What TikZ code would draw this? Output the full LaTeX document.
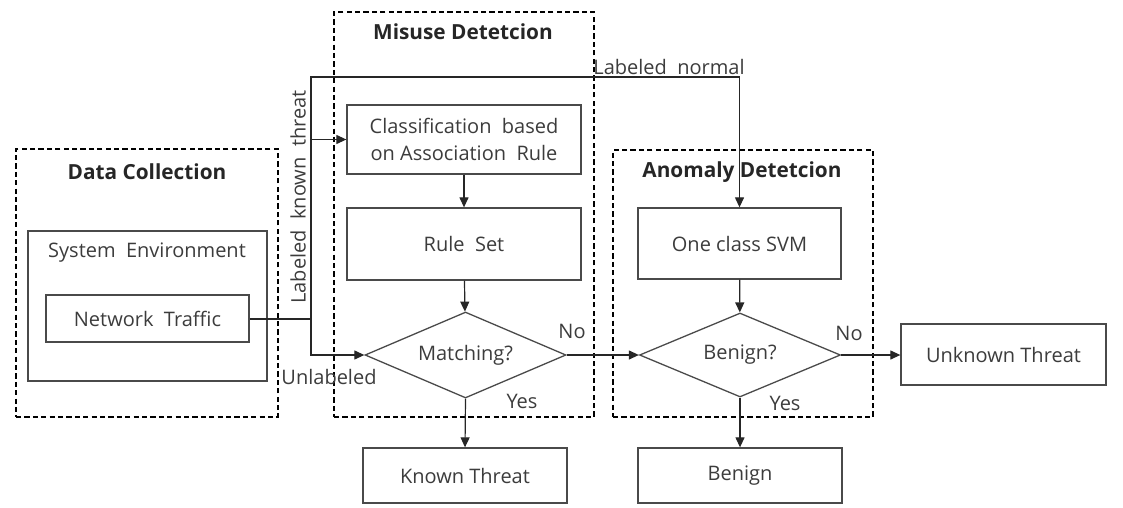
\documentclass[tikz,border=0pt]{standalone}
\usepackage{fontspec}
\setmainfont{Open Sans}
\usetikzlibrary{arrows.meta,shapes.geometric}
\definecolor{linec}{HTML}{4A4A4A}
\definecolor{textc}{HTML}{3C3C3C}
\begin{document}
\begin{tikzpicture}[x=0.5pt,y=-0.5pt,
  every node/.style={font=\fontsize{10}{13.5}\selectfont, text=textc},
  box/.style={draw=linec, line width=0.65pt, rectangle, inner sep=0pt, align=center},
  dbox/.style={draw=black, line width=0.6pt, dash pattern=on 2.6pt off 1.6pt, rectangle, inner sep=0pt},
  dia/.style={draw=linec, line width=0.65pt, diamond, inner sep=0pt, aspect=2.33},
  ttl/.style={font=\fontsize{10.4}{12}\selectfont\bfseries, text=black!85},
  lbl/.style={inner sep=0pt},
  arr/.style={draw=black!85, line width=0.6pt, -{Triangle[length=5pt,width=4.5pt]}},
  ln/.style={draw=black!85, line width=0.6pt}
]
\useasboundingbox (0,0) rectangle (1123,508);
% dashed containers
\node[dbox, minimum width=131pt, minimum height=134pt] (dc) at (147,283) {};
\node[dbox, minimum width=130pt, minimum height=202.5pt] (md) at (464,214.5) {};
\node[dbox, minimum width=130pt, minimum height=133.5pt] (ad) at (743,283.5) {};
\node[ttl] (dct) at (147,172) {Data Collection};
\node[ttl] (mdt) at (463,32) {Misuse Detetcion};
\node[ttl] (adt) at (742,172) {Anomaly Detetcion};
% boxes
\node[box, minimum width=119.5pt, minimum height=75pt] (se) at (147.5,306) {};
\node (set) at (147,253) {System\ \ Environment};
\node[box, minimum width=101.5pt, minimum height=23.5pt] (nt) at (147.5,318.5) {Network\ \ Traffic};
\node[box, minimum width=117pt, minimum height=34.5pt] (cls) at (464,139.5) {Classification\ \ based\\on Association\ \ Rule};
\node[box, minimum width=117pt, minimum height=36pt] (rs) at (464,244) {Rule\ \ Set};
\node[box, minimum width=101.5pt, minimum height=35.5pt] (svm) at (739.5,243.5) {One class SVM};
\node[box, minimum width=102pt, minimum height=27.5pt] (kt) at (465,475.5) {Known Threat};
\node[box, minimum width=102pt, minimum height=27.5pt] (bn) at (740,475.5) {Benign};
\node[box, minimum width=102.5pt, minimum height=30.5pt] (ut) at (1003.5,354.5) {Unknown Threat};
\node[dia, minimum width=100.5pt, minimum height=43pt] (mt) at (465.5,355) {Matching?};
\node[dia, minimum width=100.5pt, minimum height=42pt] (bq) at (740,355) {Benign?};
% connectors
\coordinate (j1) at (311,318.5);
\coordinate (jtop) at (311,77);
\draw[draw=black!85, line width=1pt] (nt.east) -- (j1);
\draw[arr] (j1) -- (jtop) -| (svm.north);
\draw[arr] (j1 |- cls.west) -- (cls.west);
\draw[arr] (j1) |- (mt.west);
\draw[arr] (cls) -- (rs);
\draw[arr] (rs) -- (mt);
\draw[arr] (svm) -- (bq);
\draw[arr] (mt.east) -- (bq.west);
\draw[arr] (bq.east) -- (bq.east -| ut.west);
\draw[arr] (mt.south) -- (kt.north);
\draw[arr] (bq.south) -- (bn.north);
% labels
\node[lbl, rotate=90] (lkt) at (298,197) {Labeled\ \ known\ \ threat};
\node[lbl] (ul) at (329,377) {Unlabeled};
\node[lbl] (lnm) at (669,67) {Labeled\ \ normal};
\node[lbl] (no1) at (572,331) {No};
\node[lbl] (yes1) at (522,401) {Yes};
\node[lbl] (no2) at (849,333) {No};
\node[lbl] (yes2) at (785,403) {Yes};
\end{tikzpicture}
\end{document}
